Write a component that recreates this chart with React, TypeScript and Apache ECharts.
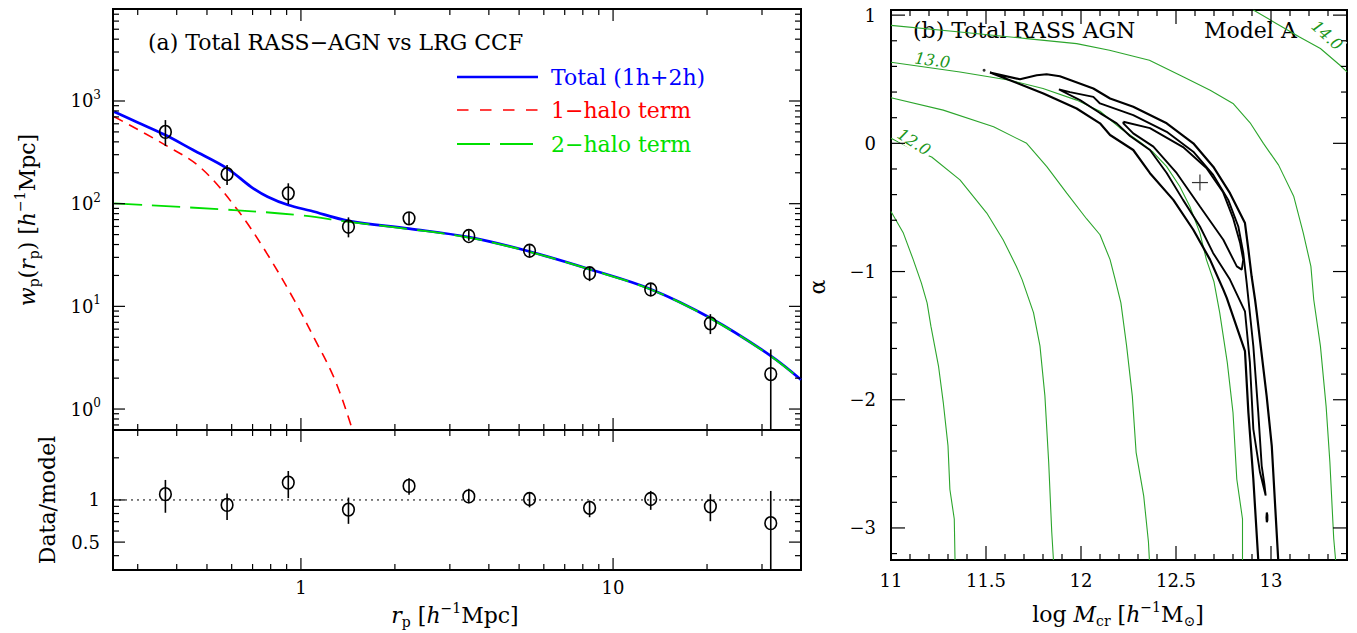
import React, { useEffect, useRef } from 'react';
import * as echarts from 'echarts';

const FONT = '"DejaVu Serif", "Liberation Serif", serif';
const TITLE_SIZE = 22;
const TICK_SIZE = 18;

// ---------------- Panel (a): axis extents ----------------
const rpRange = [0.25, 40];
const wpRange = [0.625, 7870];
const ratioRange = [0.316, 3.16];

// ---------------- Panel (a): measurements ----------------
const rpObs = [0.368, 0.58, 0.911, 1.42, 2.22, 3.45, 5.4, 8.41, 13.2, 20.5, 32.0];
const wpObs = [500, 194, 126, 59.6, 72, 48.4, 34.8, 21.0, 14.6, 6.83, 2.19];
const wpErrLow = [364, 152, 99, 47, 62, 43.5, 30.4, 17.6, 12.6, 5.37, 0.625];
const wpErrHigh = [652, 238, 158, 73.6, 83, 55, 39.5, 24.3, 16.7, 8.4, 3.81];
const ratioObs = [1.10, 0.922, 1.33, 0.853, 1.26, 1.06, 1.016, 0.878, 1.016, 0.90, 0.683];
const ratioErrLow = [0.81, 0.72, 1.03, 0.675, 1.09, 0.946, 0.886, 0.753, 0.85, 0.705, 0.316];
const ratioErrHigh = [1.39, 1.11, 1.61, 1.04, 1.43, 1.20, 1.13, 0.989, 1.16, 1.10, 1.16];
const ratioUnity = [1, 1];

// ---------------- Panel (a): model curves ----------------
const rpTotal = [0.2523, 0.30, 0.368, 0.45, 0.58, 0.692, 0.782, 0.911, 1.076, 1.42, 2.22, 3.45, 5.4, 8.41, 13.2, 20.5, 32.0, 40.0];
const wpTotal = [785, 618, 466, 335, 221, 146, 117, 97, 85.3, 68, 57.2, 47.2, 34.2, 23.0, 14.7, 7.7, 3.3, 1.93];
const rpOneHalo = [0.2523, 0.368, 0.479, 0.627, 0.773, 0.952, 1.103, 1.278, 1.463, 1.555];
const wpOneHalo = [702, 372, 222, 86.6, 33.8, 11.5, 4.91, 2.0, 0.625, 0.32];
const rpTwoHalo = [0.2523, 0.61, 1.0, 1.42, 2.22, 3.45, 5.4, 8.41, 13.2, 20.5, 32.0, 40.0];
const wpTwoHalo = [100.7, 86.6, 77, 66.6, 56.6, 46.8, 34.0, 22.9, 14.6, 7.64, 3.28, 1.92];

// ---------------- Panel (a): ticks ----------------
const rpMajorTicks = [1, 10];
const rpMinorTicks = [0.3, 0.4, 0.5, 0.6, 0.7, 0.8, 0.9, 2, 3, 4, 5, 6, 7, 8, 9, 20, 30];
const wpMajorTicks = [1, 10, 100, 1000];
const wpMinorTicks = [0.7, 0.8, 0.9, 2, 3, 4, 5, 6, 7, 8, 9, 20, 30, 40, 50, 60, 70, 80, 90,
  200, 300, 400, 500, 600, 700, 800, 900, 2000, 3000, 4000, 5000, 6000, 7000];
const ratioMajorTicks = [0.5, 1];
const ratioMinorTicks = [0.4, 0.6, 0.7, 0.8, 0.9, 2];
const ratioTickLabels = ['0.5', '1'];

// ---------------- Panel (b): axis extents & ticks ----------------
const massRange = [11, 13.4];
const alphaRange = [-3.25, 1.04];
const massMajorTicks = [11, 11.5, 12, 12.5, 13];
const massMinorTicks = [11.1, 11.2, 11.3, 11.4, 11.6, 11.7, 11.8, 11.9, 12.1, 12.2, 12.3, 12.4,
  12.6, 12.7, 12.8, 12.9, 13.1, 13.2, 13.3];
const alphaMajorTicks = [-3, -2, -1, 0, 1];
const alphaMinorTicks = [-3.2, -2.8, -2.6, -2.4, -2.2, -1.8, -1.6, -1.4, -1.2, -0.8, -0.6, -0.4,
  -0.2, 0.2, 0.4, 0.6, 0.8];

// ---------------- Panel (b): green contours (log M_cr levels) ----------------
const green11p5 = [[11.0, -0.532], [11.065, -0.70], [11.117, -0.907], [11.16, -1.09], [11.19, -1.244],
  [11.21, -1.426], [11.25, -1.737], [11.275, -2.02], [11.30, -2.36], [11.31, -2.70], [11.333, -2.93], [11.337, -3.25]];
const green12 = [[11.0, 0.039], [11.12, -0.05], [11.214, -0.107], [11.363, -0.285], [11.504, -0.544],
  [11.59, -0.752], [11.66, -0.96], [11.69, -1.063], [11.75, -1.32], [11.784, -1.58], [11.81, -1.97],
  [11.83, -2.49], [11.846, -3.03], [11.855, -3.25]];
const green12p5 = [[11.0, 0.355], [11.275, 0.259], [11.54, 0.129], [11.714, 0.0], [11.82, -0.182],
  [11.925, -0.389], [12.03, -0.59], [12.1, -0.713], [12.153, -0.907], [12.18, -1.063], [12.21, -1.244],
  [12.24, -1.58], [12.27, -1.97], [12.29, -2.41], [12.33, -2.75], [12.355, -3.11], [12.36, -3.25]];
const green13 = [[11.0, 0.632], [11.363, 0.557], [11.626, 0.492], [11.80, 0.428], [11.977, 0.337],
  [12.1, 0.25], [12.205, 0.12], [12.31, 0.01], [12.38, -0.07], [12.45, -0.18], [12.52, -0.337],
  [12.573, -0.493], [12.626, -0.70], [12.66, -0.907], [12.70, -1.08], [12.73, -1.32], [12.77, -1.71],
  [12.80, -2.10], [12.82, -2.62], [12.85, -2.93], [12.85, -3.25]];
const green13p5 = [[11.0, 0.92], [11.363, 0.868], [11.714, 0.817], [11.977, 0.778], [12.15, 0.726],
  [12.36, 0.648], [12.54, 0.518], [12.68, 0.414], [12.80, 0.311], [12.89, 0.16], [12.96, 0.0],
  [13.04, -0.17], [13.12, -0.415], [13.17, -0.70], [13.21, -0.96], [13.225, -1.22], [13.26, -1.58],
  [13.29, -2.05], [13.31, -2.49], [13.33, -3.08], [13.34, -3.25]];
const green14 = [[12.907, 1.04], [13.03, 0.933], [13.15, 0.829], [13.26, 0.74], [13.363, 0.609], [13.40, 0.557]];
const contourLabelPos = [[11.121, 0.01, -33], [11.218, 0.648, -8], [13.295, 0.842, -42]];
const contourLabelText = ['12.0', '13.0', '14.0'];
const contourLabelMask = [true, false, true];

// ---------------- Panel (b): confidence contours ----------------
const confOuter = [[12.933, -3.25], [12.907, -2.618], [12.881, -2.10], [12.863, -1.621], [12.767, -1.205],
  [12.749, -1.141], [12.679, -0.907], [12.591, -0.674], [12.486, -0.441], [12.363, -0.233], [12.275, -0.052],
  [12.153, 0.065], [12.1, 0.156], [11.977, 0.272], [11.802, 0.389], [11.626, 0.492], [11.521, 0.552],
  [11.679, 0.50], [11.767, 0.531], [11.819, 0.539], [11.889, 0.523], [12.065, 0.428], [12.153, 0.35],
  [12.275, 0.285], [12.451, 0.156], [12.591, 0.0], [12.696, -0.182], [12.784, -0.389], [12.863, -0.622],
  [12.881, -0.83], [12.898, -1.037], [12.916, -1.218], [12.925, -1.322], [12.977, -1.97], [13.004, -2.359],
  [13.038, -3.25]];
const confMiddle = [[12.972, -2.748], [12.942, -2.566], [12.907, -2.229], [12.889, -1.711], [12.863, -1.31],
  [12.784, -1.063], [12.695, -0.855], [12.626, -0.649], [12.537, -0.441], [12.451, -0.231], [12.363, -0.052],
  [12.258, 0.057], [12.188, 0.156], [12.1, 0.236], [11.995, 0.337], [11.884, 0.42], [11.942, 0.399],
  [12.065, 0.362], [12.1, 0.311], [12.275, 0.22], [12.451, 0.09], [12.591, -0.065], [12.696, -0.246],
  [12.775, -0.441], [12.828, -0.649], [12.854, -0.855], [12.872, -1.089], [12.907, -1.582], [12.933, -2.10],
  [12.951, -2.515], [12.965, -2.657], [12.972, -2.748]];
const confInner = [[12.223, 0.168], [12.363, 0.119], [12.537, -0.029], [12.66, -0.192], [12.747, -0.379],
  [12.80, -0.581], [12.837, -0.775], [12.854, -0.907], [12.846, -0.985], [12.82, -0.96], [12.749, -0.752],
  [12.626, -0.493], [12.504, -0.233], [12.381, -0.026], [12.275, 0.078], [12.223, 0.156], [12.223, 0.168]];
const confIsland = [[12.978, -2.88], [12.981, -2.90], [12.981, -2.94], [12.978, -2.955], [12.976, -2.92], [12.978, -2.88]];
const confSpeck = [[11.49, 0.57]];
const bestFit = [[12.626, -0.306]];

// ---------------- helpers ----------------
const zip = (xs: number[], ys: number[]) => xs.map((x, i) => [x, ys[i]]);

function tickData(xMaj: number[], xMin: number[], yMaj: number[], yMin: number[], x0: number, y0: number, major: number, minor: number) {
  return [
    ...xMaj.map((v) => [v, y0, 0, major]),
    ...xMin.map((v) => [v, y0, 0, minor]),
    ...yMaj.map((v) => [x0, v, 1, major]),
    ...yMin.map((v) => [x0, v, 1, minor]),
  ];
}

function tickRenderer(xr: number[], yr: number[]) {
  return (params: any, api: any) => {
    const a = api.value(0), b = api.value(1), kind = api.value(2), len = api.value(3);
    const style = { stroke: '#000', lineWidth: 1.2 };
    if (kind === 0) {
      const p = api.coord([a, yr[0]]);
      const q = api.coord([a, yr[1]]);
      return { type: 'group', children: [
        { type: 'line', shape: { x1: p[0], y1: p[1], x2: p[0], y2: p[1] - len }, style },
        { type: 'line', shape: { x1: q[0], y1: q[1], x2: q[0], y2: q[1] + len }, style },
      ] };
    }
    const p = api.coord([xr[0], b]);
    const q = api.coord([xr[1], b]);
    return { type: 'group', children: [
      { type: 'line', shape: { x1: p[0], y1: p[1], x2: p[0] + len, y2: p[1] }, style },
      { type: 'line', shape: { x1: q[0], y1: q[1], x2: q[0] - len, y2: q[1] }, style },
    ] };
  };
}

function errRenderer(params: any, api: any) {
  const x = api.value(0), y = api.value(1), lo = api.value(2), hi = api.value(3);
  const c = api.coord([x, y]);
  const l = api.coord([x, lo]);
  const h = api.coord([x, hi]);
  return { type: 'group', children: [
    { type: 'line', shape: { x1: l[0], y1: l[1], x2: h[0], y2: h[1] }, style: { stroke: '#000', lineWidth: 1.6 } },
    { type: 'ellipse', shape: { cx: c[0], cy: c[1], rx: 5.8, ry: 6.4 }, style: { stroke: '#000', fill: 'none', lineWidth: 1.6 } },
  ] };
}

const richSub = { fontSize: 14, fontFamily: FONT, verticalAlign: 'bottom', lineHeight: 16 };
const richSup = { fontSize: 14, fontFamily: FONT, verticalAlign: 'top', lineHeight: 16 };
const richIt = { fontSize: TITLE_SIZE, fontFamily: FONT, fontStyle: 'italic', lineHeight: 28 };
const labelRich = { i: richIt, sb: richSub, sp: richSup };

function txt(x: number, y: number, text: string, fill = '#000', extra: any = {}) {
  return {
    type: 'text', x, y, silent: true, ...extra,
    style: { text, fill, fontSize: TITLE_SIZE, fontFamily: FONT, lineHeight: 28, align: extra.align || 'left', verticalAlign: 'middle', rich: labelRich },
  };
}

function buildOption(): any {
  const greenLine = (data: number[][]) => ({
    type: 'line', xAxisIndex: 2, yAxisIndex: 2, data, showSymbol: false, silent: true, clip: true,
    lineStyle: { color: '#2ca52c', width: 1.1 }, z: 3,
  });
  const blackLine = (data: number[][], w = 2) => ({
    type: 'line', xAxisIndex: 2, yAxisIndex: 2, data, showSymbol: false, silent: true, clip: true,
    lineStyle: { color: '#000', width: w }, z: 4,
  });
  const baseAxis = { axisLine: { show: false }, axisTick: { show: false }, splitLine: { show: false } };

  return {
    animation: false,
    backgroundColor: '#fff',
    grid: [
      { left: 113, top: 9, width: 688, height: 421, show: true, borderColor: '#000', borderWidth: 2, backgroundColor: 'transparent' },
      { left: 113, top: 430, width: 688, height: 140, show: true, borderColor: '#000', borderWidth: 2, backgroundColor: 'transparent' },
      { left: 891, top: 10, width: 456, height: 550, show: true, borderColor: '#000', borderWidth: 2, backgroundColor: 'transparent' },
    ],
    xAxis: [
      { ...baseAxis, type: 'log', gridIndex: 0, min: rpRange[0], max: rpRange[1], axisLabel: { show: false } },
      { ...baseAxis, type: 'log', gridIndex: 1, min: rpRange[0], max: rpRange[1],
        axisLabel: { show: true, margin: 8, color: '#000', fontSize: TICK_SIZE, fontFamily: FONT, showMinLabel: false, showMaxLabel: false,
          formatter: (v: number) => String(Math.round(v)) } },
      { ...baseAxis, type: 'value', gridIndex: 2, min: massRange[0], max: massRange[1], interval: 0.5,
        axisLabel: { show: true, margin: 11, color: '#000', fontSize: TICK_SIZE, fontFamily: FONT, showMinLabel: true, showMaxLabel: false,
          formatter: (v: number) => String(v) } },
    ],
    yAxis: [
      { ...baseAxis, type: 'log', gridIndex: 0, min: wpRange[0], max: wpRange[1],
        axisLabel: { show: true, margin: 12, color: '#000', fontSize: TICK_SIZE, fontFamily: FONT, lineHeight: 24, showMinLabel: false, showMaxLabel: false,
          formatter: (v: number) => `10{s|${Math.round(Math.log10(v))}}`,
          rich: { s: { fontSize: 12, fontFamily: FONT, verticalAlign: 'top', lineHeight: 14 } } } },
      { ...baseAxis, type: 'log', gridIndex: 1, min: ratioRange[0], max: ratioRange[1], axisLabel: { show: false } },
      { ...baseAxis, type: 'value', gridIndex: 2, min: alphaRange[0], max: alphaRange[1], interval: 0.25,
        axisLabel: { show: true, interval: 0, margin: 15, color: '#000', fontSize: TICK_SIZE, fontFamily: FONT, showMinLabel: false, showMaxLabel: false,
          formatter: (v: number) => {
            const r = Math.round(v);
            if (Math.abs(v - r) > 1e-6) return '';
            return r < 0 ? '\u2212' + Math.abs(r) : String(r);
          } } },
    ],
    series: [
      // ---- panel (a) upper ----
      { type: 'custom', xAxisIndex: 0, yAxisIndex: 0, silent: true, z: 5,
        data: tickData(rpMajorTicks, rpMinorTicks, wpMajorTicks, wpMinorTicks, rpRange[0], wpRange[0], 12, 6),
        renderItem: tickRenderer(rpRange, wpRange) },
      { type: 'line', xAxisIndex: 0, yAxisIndex: 0, data: zip(rpTotal, wpTotal), showSymbol: false, silent: true,
        smooth: 0.35, lineStyle: { color: '#0000ff', width: 2.7 }, z: 2 },
      { type: 'line', xAxisIndex: 0, yAxisIndex: 0, data: zip(rpOneHalo, wpOneHalo), showSymbol: false, silent: true,
        smooth: 0.35, lineStyle: { color: '#ff0000', width: 1.6, type: [10, 7] }, z: 2 },
      { type: 'line', xAxisIndex: 0, yAxisIndex: 0, data: zip(rpTwoHalo, wpTwoHalo), showSymbol: false, silent: true,
        smooth: 0.35, lineStyle: { color: '#00e000', width: 1.8, type: [28, 10] }, z: 3 },
      { type: 'custom', xAxisIndex: 0, yAxisIndex: 0, silent: true, z: 6,
        data: rpObs.map((r, i) => [r, wpObs[i], wpErrLow[i], wpErrHigh[i]]), renderItem: errRenderer },
      // ---- panel (a) lower ----
      { type: 'custom', xAxisIndex: 1, yAxisIndex: 1, silent: true, z: 5,
        data: tickData(rpMajorTicks, rpMinorTicks, ratioMajorTicks, ratioMinorTicks, rpRange[0], ratioRange[0], 12, 6),
        renderItem: tickRenderer(rpRange, ratioRange) },
      { type: 'line', xAxisIndex: 1, yAxisIndex: 1, data: zip(rpRange, ratioUnity), showSymbol: false, silent: true,
        lineStyle: { color: '#000', width: 1, type: [2, 4] } },
      { type: 'custom', xAxisIndex: 1, yAxisIndex: 1, silent: true, z: 6,
        data: rpObs.map((r, i) => [r, ratioObs[i], ratioErrLow[i], ratioErrHigh[i]]), renderItem: errRenderer },
      { type: 'custom', xAxisIndex: 1, yAxisIndex: 1, silent: true, clip: false,
        data: ratioMajorTicks.map((v) => [rpRange[0], v]),
        renderItem: (params: any, api: any) => {
          const p = api.coord([api.value(0), api.value(1)]);
          return { type: 'text', x: p[0] - 13, y: p[1],
            style: { text: ratioTickLabels[params.dataIndex], fill: '#000', fontSize: TICK_SIZE, fontFamily: FONT, align: 'right', verticalAlign: 'middle' } };
        } },
      // ---- panel (b) ----
      { type: 'custom', xAxisIndex: 2, yAxisIndex: 2, silent: true, z: 5,
        data: tickData(massMajorTicks, massMinorTicks, alphaMajorTicks, alphaMinorTicks, massRange[0], alphaRange[0], 14, 6),
        renderItem: tickRenderer(massRange, alphaRange) },
      greenLine(green11p5), greenLine(green12), greenLine(green12p5), greenLine(green13), greenLine(green13p5), greenLine(green14),
      { type: 'custom', xAxisIndex: 2, yAxisIndex: 2, silent: true, z: 4,
        data: contourLabelPos,
        renderItem: (params: any, api: any) => {
          const i = params.dataIndex;
          const p = api.coord([api.value(0), api.value(1)]);
          return { type: 'text', x: p[0], y: p[1], rotation: (api.value(2) * Math.PI) / 180,
            style: { text: contourLabelText[i], fill: '#1a961a', fontSize: 16, fontStyle: 'italic', fontFamily: FONT,
              align: 'center', verticalAlign: 'middle', backgroundColor: contourLabelMask[i] ? '#fff' : 'transparent', padding: [0, 2] } };
        } },
      blackLine(confOuter, 2.2), blackLine(confMiddle, 1.9), blackLine(confInner, 1.9), blackLine(confIsland, 2),
      { type: 'scatter', xAxisIndex: 2, yAxisIndex: 2, data: confSpeck, symbolSize: 3, silent: true, itemStyle: { color: '#000' } },
      { type: 'custom', xAxisIndex: 2, yAxisIndex: 2, silent: true, z: 6, data: bestFit,
        renderItem: (params: any, api: any) => {
          const p = api.coord([api.value(0), api.value(1)]);
          const s = { stroke: '#333', lineWidth: 1.2 };
          return { type: 'group', children: [
            { type: 'line', shape: { x1: p[0] - 8, y1: p[1], x2: p[0] + 8, y2: p[1] }, style: s },
            { type: 'line', shape: { x1: p[0], y1: p[1] - 8, x2: p[0], y2: p[1] + 8 }, style: s },
          ] };
        } },
    ],
    graphic: [
      txt(148, 42, '(a) Total RASS\u2212AGN vs LRG CCF'),
      { type: 'line', silent: true, shape: { x1: 457, y1: 77, x2: 538, y2: 77 }, style: { stroke: '#0000ff', lineWidth: 2.7 } },
      txt(551, 77, 'Total (1h+2h)', '#0000ff'),
      { type: 'line', silent: true, shape: { x1: 457, y1: 110, x2: 538, y2: 110 }, style: { stroke: '#ff0000', lineWidth: 1.6, lineDash: [11.5, 11.5] } },
      txt(551, 110, '1\u2212halo term', '#ff0000'),
      { type: 'line', silent: true, shape: { x1: 457, y1: 144, x2: 534, y2: 144 }, style: { stroke: '#00e000', lineWidth: 1.8, lineDash: [33, 10] } },
      txt(551, 144, '2\u2212halo term', '#00e000'),
      txt(27, 220, '{i|w}{sb|p}({i|r}{sb|p}) [{i|h}{sp|\u22121}Mpc]', '#000', { rotation: Math.PI / 2, align: 'center' }),
      txt(47, 500, 'Data/model', '#000', { rotation: Math.PI / 2, align: 'center' }),
      txt(455, 615, '{i|r}{sb|p} [{i|h}{sp|\u22121}Mpc]', '#000', { align: 'center' }),
      txt(913, 30, '(b) Total RASS AGN'),
      txt(1204, 30, 'Model A'),
      txt(817, 287, '\u03b1', '#000', { rotation: Math.PI / 2, align: 'center' }),
      txt(1118, 614, 'log {i|M}{sb|cr} [{i|h}{sp|\u22121}M{sb|\u2299}]', '#000', { align: 'center' }),
    ],
  };
}

export default function App() {
  const ref = useRef<HTMLDivElement>(null);
  useEffect(() => {
    if (!ref.current) return;
    const chart = echarts.init(ref.current, null, { renderer: 'svg' });
    chart.setOption(buildOption());
    return () => chart.dispose();
  }, []);
  return <div ref={ref} style={{ position: 'fixed', left: 0, top: 0, width: 1357, height: 633, background: '#fff' }} />;
}
